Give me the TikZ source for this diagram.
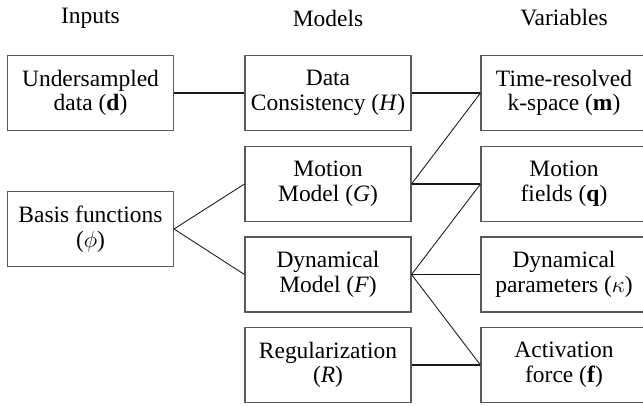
\documentclass[tikz,border=0pt]{standalone}
\usepackage{fontspec}
\setmainfont{Liberation Serif}
\usepackage{tikz}
\usetikzlibrary{positioning}
\definecolor{boxGray}{HTML}{5A5A5A}

\begin{document}
\begin{tikzpicture}[
    x=0.75pt, y=-0.75pt,
    font=\fontsize{17.6}{18.5}\selectfont,
    head/.style={align=center, inner sep=0pt},
    block/.style={draw=boxGray, line width=0.8pt, minimum width=124.5pt, minimum height=56.25pt, inner sep=0pt, align=center},
    link/.style={line width=1.3pt, draw=black!90},
    slant/.style={line width=0.65pt, draw=black!90}
]
\useasboundingbox (0,0) rectangle (643,405);

\node[head] (hin) at (90.5,18) {Inputs};
\node[head] (hmod) at (328,18) {Models};
\node[head] (hvar) at (564,18) {Variables};

\node[block] (data) at (90.5,93) {Undersampled\\data (\textbf{d})};
\node[block] (basis) at (90.5,229) {Basis functions\\($\phi$)};

\node[block] (cons) at (328,93) {Data\\Consistency (\textit{H})};
\node[block] (motion) at (328,184) {Motion\\Model (\textit{G})};
\node[block] (dyn) at (328,274.5) {Dynamical\\Model (\textit{F})};
\node[block] (reg) at (328,365) {Regularization\\(\textit{R})};

\node[block] (kspace) at (564,93) {Time-resolved\\k-space (\textbf{m})};
\node[block] (fields) at (564,184) {Motion\\fields (\textbf{q})};
\node[block] (params) at (564,274.5) {Dynamical\\parameters ($\kappa$)};
\node[block] (force) at (564,365) {Activation\\force (\textbf{f})};

\draw[link] (data.east) -- (cons.west);
\draw[link] (cons.east) -- (kspace.west);
\draw[link] (motion.east) -- (fields.west);
\draw[link] (dyn.east) -- (params.west);
\draw[link] (reg.east) -- (force.west);
\draw[slant] (basis.east) -- (motion.west);
\draw[slant] (basis.east) -- (dyn.west);
\draw[slant] (motion.east) -- (kspace.west);
\draw[slant] (dyn.east) -- (fields.west);
\draw[slant] (dyn.east) -- (force.west);
\end{tikzpicture}
\end{document}
